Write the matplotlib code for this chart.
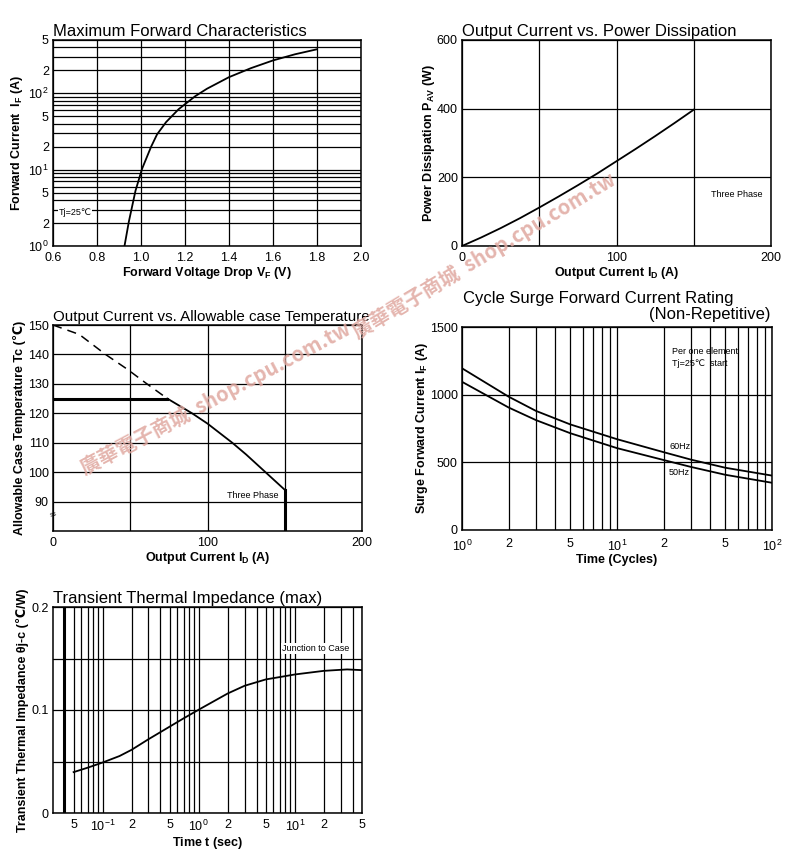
import matplotlib
matplotlib.use("Agg")
import matplotlib.pyplot as plt
import numpy as np

plt.rcParams['font.family'] = ['Liberation Sans', 'DejaVu Sans', 'Noto Sans CJK TC']
plt.rcParams['mathtext.fontset'] = 'custom'
plt.rcParams['mathtext.rm'] = 'Liberation Sans'
plt.rcParams['mathtext.it'] = 'Liberation Sans:italic'
plt.rcParams['mathtext.bf'] = 'Liberation Sans:bold'

# ---------------- data ----------------
# Chart 1: Maximum forward characteristics
vf = [0.925, 0.945, 0.975, 1.005, 1.046, 1.073, 1.114, 1.171, 1.247, 1.3, 1.4, 1.5, 1.6, 1.7, 1.8]
i_f = [1.0, 2.1, 5.3, 10.3, 20, 29, 42, 62, 92, 115, 163, 214, 270, 325, 378]
vf_ticks = [0.6, 0.8, 1.0, 1.2, 1.4, 1.6, 1.8, 2.0]
if_ticks = [1, 2, 5, 10, 20, 50, 100, 200, 500]
if_ticklabels = [r'$\mathregular{10^0}$', '2', '5', r'$\mathregular{10^1}$', '2', '5',
                 r'$\mathregular{10^2}$', '2', '5']

# Chart 2: Output current vs power dissipation
id_p = [0, 12.5, 25, 37.5, 50, 62.5, 75, 87.5, 100, 112.5, 125, 137.5, 150]
pav = [0, 25, 52, 81, 112, 144, 177, 211, 247, 283, 320, 358, 397]

# Chart 3: Output current vs allowable case temperature
id_dash = [0, 17, 34, 48, 60, 74]
tc_dash = [150, 146.8, 140, 135, 130.3, 125]
id_solid = [74, 90, 100, 116, 125, 135, 150]
tc_solid = [125, 120, 116.5, 110, 106, 101.2, 94]
tc_flat = 125
id_limit = 150

# Chart 4: Cycle surge forward current rating
cycles = [1, 2, 3, 5, 10, 20, 30, 50, 100]
surge_60 = [1195, 985, 880, 780, 671, 575, 520, 460, 402]
surge_50 = [1095, 905, 812, 715, 605, 517, 466, 408, 349]
cyc_ticks = [1, 2, 5, 10, 20, 50, 100]
cyc_ticklabels = [r'$\mathregular{10^0}$', '2', '5', r'$\mathregular{10^1}$', '2', '5',
                  r'$\mathregular{10^2}$']

# Chart 5: Transient thermal impedance
t_sec = [0.05, 0.07, 0.1, 0.15, 0.2, 0.3, 0.5, 0.7, 1, 2, 3, 5, 7, 10, 20, 35, 50]
zth = [0.0397, 0.0440, 0.0490, 0.0553, 0.0613, 0.0716, 0.0839, 0.092, 0.1003, 0.1160,
       0.1235, 0.1297, 0.132, 0.1345, 0.138, 0.1394, 0.1387]
t_ticks = [0.05, 0.1, 0.2, 0.5, 1, 2, 5, 10, 20, 50]
t_ticklabels = ['5', r'$\mathregular{10^{-1}}$', '2', '5', r'$\mathregular{10^0}$', '2', '5',
                r'$\mathregular{10^1}$', '2', '5']

# ---------------- figure ----------------
W, H = 791, 850
fig = plt.figure(figsize=(W / 100, H / 100), dpi=100)

def add_axes(l, t, r, b):
    return fig.add_axes([l / W, 1 - b / H, (r - l) / W, (b - t) / H])

TICK = 9
LAB = 9
TITLE = 12
GRID = dict(color='black', linewidth=0.9)

def style(ax, xpad=4):
    for s in ax.spines.values():
        s.set_linewidth(1.1)
        s.set_color('black')
    ax.tick_params(which='both', length=0, labelsize=TICK, pad=3)
    ax.tick_params(axis='x', pad=xpad)
    ax.grid(True, which='both', **GRID)
    ax.set_axisbelow(True)

def log_minor(lo_exp, hi_exp, lo, hi):
    vals = []
    for e in range(lo_exp, hi_exp + 1):
        for m in range(1, 10):
            v = m * 10.0 ** e
            if lo <= v <= hi:
                vals.append(v)
    return vals

# ---- Chart 1 ----
ax1 = add_axes(53, 40, 361, 246)
ax1.set_yscale('log')
ax1.set_xlim(0.6, 2.0)
ax1.set_ylim(1, 500)
ax1.set_xticks(vf_ticks)
ax1.set_xticklabels([f'{v:.1f}' for v in vf_ticks])
ax1.set_yticks(if_ticks)
ax1.set_yticklabels(if_ticklabels)
ax1.set_yticks(log_minor(0, 2, 1, 500), minor=True)
ax1.yaxis.set_minor_formatter(matplotlib.ticker.NullFormatter())
style(ax1)
ax1.plot(vf, i_f, color='black', lw=1.3)
ax1.text(0.625, 2.75, 'Tj=25℃', fontsize=6.5, va='center', ha='left',
         bbox=dict(facecolor='white', edgecolor='none', pad=0.5))
ax1.set_title('Maximum Forward Characteristics', loc='left', fontsize=TITLE, pad=3)
ax1.set_xlabel(r'Forward Voltage Drop $\mathbf{V_F}$ (V)', fontsize=LAB, fontweight='bold', labelpad=1)
ax1.set_ylabel(r'Forward Current  $\mathbf{I_F}$ (A)', fontsize=LAB, fontweight='bold', labelpad=2)

# ---- Chart 2 ----
ax2 = add_axes(462, 40, 771, 246)
ax2.set_xlim(0, 200)
ax2.set_ylim(0, 600)
ax2.set_xticks([0, 100, 200])
ax2.set_xticks([50, 150], minor=True)
ax2.set_yticks([0, 200, 400, 600])
style(ax2)
ax2.plot(id_p, pav, color='black', lw=1.3)
ax2.text(161, 150, 'Three Phase', fontsize=6.5, va='center', ha='left')
ax2.set_title('Output Current vs. Power Dissipation', loc='left', fontsize=TITLE, pad=3)
ax2.set_xlabel(r'Output Current $\mathbf{I_D}$ (A)', fontsize=LAB, fontweight='bold', labelpad=1)
ax2.set_ylabel(r'Power Dissipation $\mathbf{P_{AV}}$ (W)', fontsize=LAB, fontweight='bold', labelpad=0)

# ---- Chart 3 ----
ax3 = add_axes(53, 325, 362, 531)
ax3.set_xlim(0, 200)
ax3.set_ylim(80, 150)
ax3.set_xticks([0, 100, 200])
ax3.set_xticks([50, 150], minor=True)
ax3.set_yticks([90, 100, 110, 120, 130, 140, 150])
style(ax3)
ax3.plot(id_dash, tc_dash, color='black', lw=1.1, ls=(0, (6, 4)))
ax3.plot(id_solid, tc_solid, color='black', lw=1.3)
ax3.plot([0, id_dash[-1]], [tc_flat, tc_flat], color='black', lw=2.2)
ax3.plot([id_limit, id_limit], [tc_solid[-1], 80], color='black', lw=2.2)
ax3.text(146, 92, 'Three Phase', fontsize=6.5, va='center', ha='right',
         bbox=dict(facecolor='white', edgecolor='none', pad=0.3))
ax3.text(0, 85.5, '≈', fontsize=8, va='center', ha='center', rotation=20)
ax3.set_title('Output Current vs. Allowable case Temperature', loc='left', fontsize=10.9, pad=3)
ax3.set_xlabel(r'Output Current $\mathbf{I_D}$ (A)', fontsize=LAB, fontweight='bold', labelpad=1)
ax3.set_ylabel('Allowable Case Temperature Tc (℃)', fontsize=LAB, fontweight='bold', labelpad=1)

# ---- Chart 4 ----
ax4 = add_axes(462, 327, 772, 530)
ax4.set_xscale('log')
ax4.set_xlim(1, 100)
ax4.set_ylim(0, 1500)
ax4.set_xticks(cyc_ticks)
ax4.set_xticklabels(cyc_ticklabels)
ax4.set_xticks(log_minor(0, 1, 1, 100), minor=True)
ax4.xaxis.set_minor_formatter(matplotlib.ticker.NullFormatter())
ax4.set_yticks([0, 500, 1000, 1500])
style(ax4, xpad=6)
ax4.plot(cycles, surge_60, color='black', lw=1.3)
ax4.plot(cycles, surge_50, color='black', lw=1.3)
ax4.text(21.7, 615, '60Hz', fontsize=6.5, va='center', ha='left')
ax4.text(21.7, 425, '50Hz', fontsize=6.5, va='center', ha='left')
ax4.text(22.5, 1318, 'Per one element', fontsize=6.5, va='center', ha='left')
ax4.text(22.5, 1230, 'Tj=25℃  start', fontsize=6.5, va='center', ha='left')
fig.text(463 / W, 1 - 298 / H, 'Cycle Surge Forward Current Rating', fontsize=TITLE,
         ha='left', va='center')
fig.text(770 / W, 1 - 314 / H, '(Non-Repetitive)', fontsize=TITLE, ha='right', va='center')
ax4.set_xlabel('Time (Cycles)', fontsize=LAB, fontweight='bold', labelpad=0)
ax4.set_ylabel(r'Surge Forward Current $\mathbf{I_F}$ (A)', fontsize=LAB, fontweight='bold', labelpad=0)

# ---- Chart 5 ----
ax5 = add_axes(53, 607, 362, 813)
ax5.set_xscale('log')
ax5.set_xlim(0.0305, 50)
ax5.set_ylim(0, 0.2)
ax5.set_xticks(t_ticks)
ax5.set_xticklabels(t_ticklabels)
ax5.set_xticks(log_minor(-2, 1, 0.035, 50), minor=True)
ax5.xaxis.set_minor_formatter(matplotlib.ticker.NullFormatter())
ax5.set_yticks([0, 0.1, 0.2])
ax5.set_yticklabels(['0', '0.1', '0.2'])
ax5.set_yticks([0.05, 0.15], minor=True)
style(ax5)
ax5.axvline(0.04, color='black', lw=2.2)
ax5.plot(t_sec, zth, color='black', lw=1.3)
ax5.text(7.3, 0.16, 'Junction to Case', fontsize=6.5, va='center', ha='left',
         bbox=dict(facecolor='white', edgecolor='none', pad=0.8))
ax5.set_title('Transient Thermal Impedance (max)', loc='left', fontsize=TITLE, pad=3)
ax5.set_xlabel(r'Time $\mathbf{t}$ (sec)', fontsize=LAB, fontweight='bold', labelpad=1)
ax5.set_ylabel('Transient Thermal Impedance θj-c (℃/W)', fontsize=LAB,
               fontweight='bold', labelpad=2)

# ---- watermark ----
wm = '廣華電子商城  shop.cpu.com.tw'
for (x, y, ang) in [(85, 475, 28), (358, 340, 31)]:
    fig.text(x / W, 1 - y / H, wm, fontsize=14.5, color='#e0a8a0', alpha=0.85,
             rotation=ang, rotation_mode='anchor', ha='left', va='baseline',
             family=['Noto Sans CJK TC', 'DejaVu Sans'], fontweight='bold', zorder=10)

fig.savefig('out.png', dpi=100)
